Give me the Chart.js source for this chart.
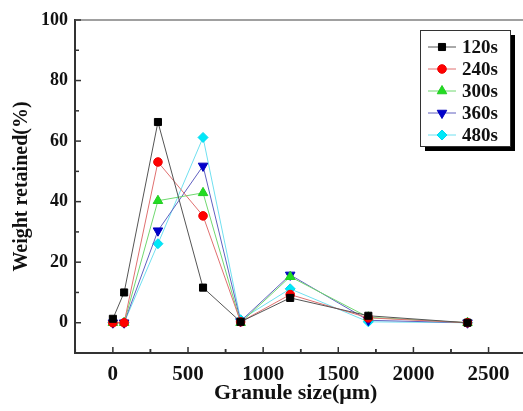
<!DOCTYPE html>
<html><head><meta charset="utf-8">
<script src="https://cdn.jsdelivr.net/npm/chart.js@4"></script>
<style>html,body{margin:0;padding:0;background:#fff}canvas{display:block}</style>
</head><body>
<canvas id="c" width="523" height="411"></canvas>
<script>
// ---- data ----
const sizes = [0, 75, 300, 600, 850, 1180, 1700, 2360];
const seriesNames = ['120s', '240s', '300s', '360s', '480s'];
const s120 = [1.3, 10, 66.3, 11.6, 0.3, 8.2, 2.3, 0];
const s240 = [0, 0, 53.1, 35.3, 0.3, 9.3, 1.6, 0];
const s300 = [0, 0, 40.3, 42.9, 0, 15.2, 1.8, 0];
const s360 = [0, 0, 30.4, 51.8, 0.5, 15.8, 0.8, 0];
const s480 = [0, 0, 26.1, 61.2, 1, 11.2, 0.3, 0];
const xTicks = [0, 500, 1000, 1500, 2000, 2500];
const yTicks = [0, 20, 40, 60, 80, 100];

const FONT = 'Liberation Serif';
const toPts = vals => sizes.map((s, i) => ({x: s, y: vals[i]}));

const styles = [
  {line: '#555555', fill: '#000000', border: '#000000', style: 'rect', r: 5, rot: 0},
  {line: '#e07070', fill: '#ff0000', border: '#ee0000', style: 'circle', r: 4.3, rot: 0},
  {line: '#70d870', fill: '#22dd22', border: '#22cc22', style: 'triangle', r: 5.5, rot: 0},
  {line: '#6060c0', fill: '#0000cc', border: '#0000bb', style: 'triangle', r: 5.5, rot: 180},
  {line: '#70e0f0', fill: '#00e8f8', border: '#00d8f0', style: 'rectRot', r: 5, rot: 0}
];
const allVals = [s120, s240, s300, s360, s480];

const datasets = allVals.map((v, i) => ({
  label: seriesNames[i],
  data: toPts(v),
  showLine: true,
  borderColor: styles[i].line,
  borderWidth: 1,
  pointStyle: styles[i].style,
  pointRadius: styles[i].r,
  pointRotation: styles[i].rot,
  pointBackgroundColor: styles[i].fill,
  pointBorderColor: styles[i].border,
  pointBorderWidth: 1
}));

function seg(ctx, x1, y1, x2, y2) { ctx.beginPath(); ctx.moveTo(x1, y1); ctx.lineTo(x2, y2); ctx.stroke(); }

const deco = {
  id: 'deco',
  afterDraw(chart) {
    const {ctx, chartArea: a, scales: {x, y}} = chart;
    ctx.save();
    // top frame line (runs to the canvas edge)
    ctx.strokeStyle = '#808080'; ctx.lineWidth = 1.5;
    seg(ctx, a.left, a.top, chart.width, a.top);
    // extend bottom axis line to the canvas edge
    ctx.strokeStyle = '#333'; ctx.lineWidth = 2;
    seg(ctx, a.right - 1, a.bottom, chart.width, a.bottom);
    // inward ticks
    ctx.strokeStyle = '#333'; ctx.lineWidth = 1.5;
    const yStep = yTicks[1] - yTicks[0];
    yTicks.forEach(v => {
      const p = y.getPixelForValue(v);
      if (v > y.min) seg(ctx, a.left, p, a.left + 6, p);
      const m = v - yStep / 2;
      if (m > y.min) { const pm = y.getPixelForValue(m); seg(ctx, a.left, pm, a.left + 4, pm); }
    });
    const xStep = xTicks[1] - xTicks[0];
    xTicks.forEach(v => {
      const p = x.getPixelForValue(v);
      seg(ctx, p, a.bottom, p, a.bottom - 6);
      [v - xStep / 2, v + xStep / 2].forEach(m => {
        if (m > x.min && m < x.max) { const pm = x.getPixelForValue(m); seg(ctx, pm, a.bottom, pm, a.bottom - 4); }
      });
    });
    // legend
    const lg = {x: 420, y: 30, w: 90, h: 116, first: 47, row: 22};
    ctx.fillStyle = '#000'; ctx.fillRect(lg.x + 5, lg.y + 5, lg.w, lg.h);
    ctx.fillStyle = '#fff'; ctx.fillRect(lg.x, lg.y, lg.w, lg.h);
    ctx.strokeStyle = '#333'; ctx.lineWidth = 1; ctx.strokeRect(lg.x + 0.5, lg.y + 0.5, lg.w, lg.h);
    chart.data.datasets.forEach((ds, i) => {
      const yy = lg.first + i * lg.row;
      ctx.strokeStyle = ds.borderColor; ctx.lineWidth = 1;
      seg(ctx, lg.x + 8, yy, lg.x + 36, yy);
      ctx.fillStyle = ds.pointBackgroundColor; ctx.strokeStyle = ds.pointBorderColor; ctx.lineWidth = 1;
      Chart.helpers.drawPoint(ctx, {pointStyle: ds.pointStyle, radius: ds.pointRadius, rotation: ds.pointRotation, borderWidth: 1}, lg.x + 22, yy);
      ctx.fillStyle = '#111'; ctx.font = 'bold 19px "' + FONT + '"';
      ctx.textAlign = 'left'; ctx.textBaseline = 'middle';
      ctx.fillText(ds.label, lg.x + 42, yy + 1);
    });
    ctx.restore();
  }
};

new Chart(document.getElementById('c'), {
  type: 'scatter',
  data: {datasets},
  plugins: [deco],
  options: {
    responsive: false,
    animation: false,
    layout: {padding: {top: 20, right: 0, left: 0, bottom: 0}},
    plugins: {legend: {display: false}, tooltip: {enabled: false}},
    scales: {
      x: {
        type: 'linear', min: -252, max: 2686,
        afterBuildTicks: s => { s.ticks = xTicks.map(v => ({value: v})); },
        afterFit: s => { s.height = 58; s.paddingRight = 0; s.paddingLeft = 0; },
        grid: {display: false, drawTicks: false},
        border: {display: true, color: '#333', width: 2},
        ticks: {padding: 9, color: '#111', maxRotation: 0, autoSkip: false,
                callback: v => String(v),
                font: {family: FONT, weight: 'bold', size: 21}},
        title: {display: true, text: 'Granule size(μm)', color: '#111',
                font: {family: FONT, weight: 'bold', size: 22}, padding: {top: 0, bottom: 4}}
      },
      y: {
        type: 'linear', min: -10, max: 100,
        afterBuildTicks: s => { s.ticks = yTicks.map(v => ({value: v})); },
        afterFit: s => { s.width = 75; },
        grid: {display: false, drawTicks: false},
        border: {display: true, color: '#333', width: 2},
        ticks: {padding: 7, color: '#111', callback: v => String(v),
                font: {family: FONT, weight: 'bold', size: 18}},
        title: {display: true, text: 'Weight retained(%)', color: '#111',
                font: {family: FONT, weight: 'bold', size: 20}, padding: {top: 10, bottom: 0}}
      }
    }
  }
});
</script>
</body></html>
